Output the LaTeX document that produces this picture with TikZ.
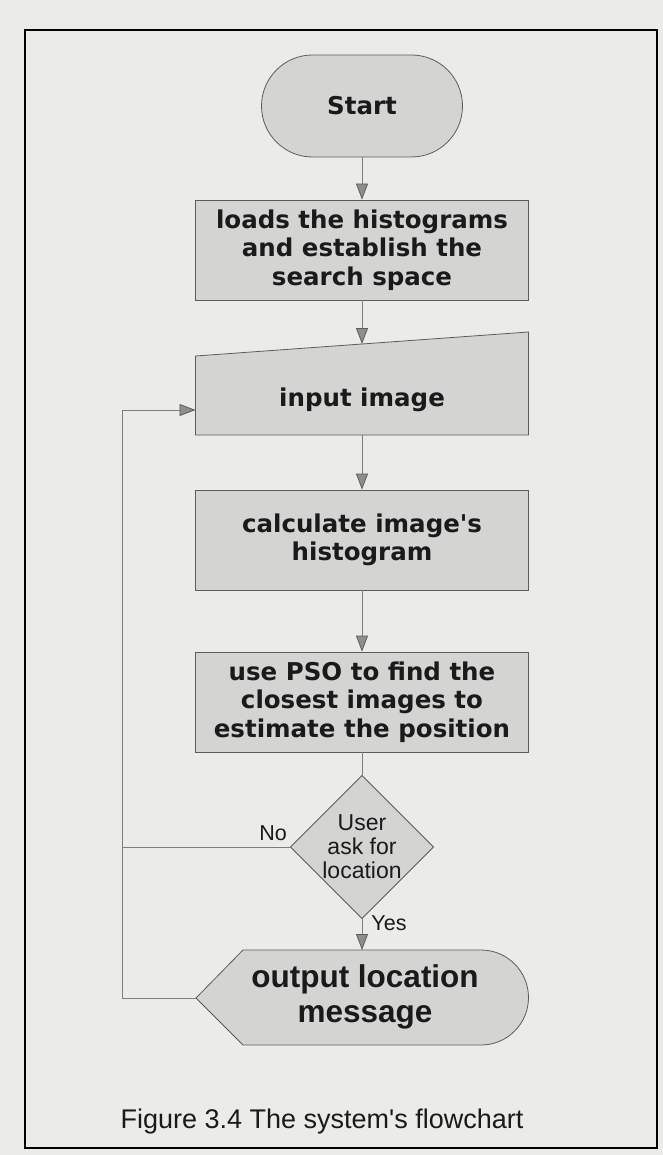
\documentclass[tikz,border=0pt]{standalone}
\usepackage{fontspec}
\setmainfont{DejaVu Sans}
\newfontfamily\arialfont{Liberation Sans}
\usetikzlibrary{shapes.geometric,arrows.meta}

\definecolor{paper}{HTML}{EBEBE8}
\definecolor{boxfill}{HTML}{D4D4D3}
\definecolor{edgecol}{HTML}{5C5C5C}
\definecolor{linecol}{HTML}{7E7E7E}
\definecolor{headfill}{HTML}{8E8E8E}
\definecolor{ink}{HTML}{1A1A1A}

\newcommand{\boxfnt}{\fontsize{24.5}{28.5}\bfseries\selectfont}
\newcommand{\decfnt}{\arialfont\fontsize{23}{24}\selectfont}
\newcommand{\lblfnt}{\arialfont\fontsize{21.5}{24}\selectfont}
\newcommand{\outfnt}{\arialfont\bfseries\fontsize{31.5}{35}\selectfont}
\newcommand{\capfnt}{\arialfont\fontsize{27}{30}\selectfont}

\begin{document}
\begin{tikzpicture}[x=1pt,y=-1pt,
  procbox/.style={draw=edgecol, fill=boxfill, line width=0.8pt,
    minimum width=333pt, minimum height=100pt, inner sep=0pt,
    align=center, font=\boxfnt, text=ink},
  termbox/.style={procbox, minimum width=201pt, minimum height=102pt,
    rounded corners=51pt},
  decbox/.style={draw=edgecol, fill=boxfill, line width=0.8pt, diamond,
    minimum width=138pt, minimum height=135pt, inner sep=0pt,
    align=center, font=\decfnt, text=ink},
  shapeline/.style={draw=edgecol, fill=boxfill, line width=0.8pt},
  plain/.style={draw=linecol, line width=0.8pt},
  conn/.style={plain, -{Triangle[length=16pt,width=12pt,color=edgecol,fill=headfill]}},
  lbl/.style={font=\lblfnt, text=ink, inner sep=0pt},
]
% page and outer frame
\fill[paper] (0,0) rectangle (663,1155);
\useasboundingbox (0,0) rectangle (663,1155);
\draw[black, line width=2pt] (25,30) rectangle (657,1148);

% terminal and process steps
\node[termbox] (start) at (362,106) {Start};
\node[procbox] (load) at (362,250) {loads the histograms\\and establish the\\search space};

% manual input step
\coordinate (inpTL) at (195.5,356);
\coordinate (inpTR) at (528.5,332);
\coordinate (inpBR) at (528.5,435);
\coordinate (inpBL) at (195.5,435);
\draw[shapeline] (inpTL) -- (inpTR) -- (inpBR) -- (inpBL) -- cycle;
\node[font=\boxfnt, text=ink] (inp) at (362,400) {input image};
\coordinate (inpTop) at (362,344);
\coordinate (inpBot) at (362,435);
\coordinate (inpLeft) at (195.5,410);

\node[procbox] (calc) at (362,540) {calculate image\textquotesingle s\\histogram};
\node[procbox] (pso) at (362,702) {use PSO to find the\\closest images to\\estimate the position};

% decision
\node[decbox] (ask) at (362,847) {User\\ask for\\location};

% display step
\coordinate (outTip) at (196,998);
\coordinate (outTop) at (362,950);
\draw[shapeline] (outTip) -- (243,950) -- (481,950)
  arc[start angle=-90, end angle=90, x radius=47.5pt, y radius=-47.5pt]
  -- (243,1045) -- cycle;
\node[font=\outfnt, text=ink, align=center] (out) at (365,997) {output location\\message};

% connectors
\draw[conn] (start) -- (load);
\draw[conn] (load) -- (inpTop);
\draw[conn] (inpBot) -- (calc);
\draw[conn] (calc) -- (pso);
\draw[plain] (pso) -- (ask);
\draw[conn] (ask.south) -- (outTop);

% loop back to the input step
\coordinate (bendNo) at (122,847);
\coordinate (bendOut) at (122,998);
\coordinate (bendIn) at (122,410);
\draw[plain] (ask.west) -- (bendNo);
\draw[conn] (outTip) -- (bendOut) -- (bendIn) -- (inpLeft);

% branch labels
\node[lbl] (no) at (273,833) {No};
\node[lbl] (yes) at (389,923) {Yes};

% caption
\node[font=\capfnt, text=ink] (cap) at (322,1122) {Figure 3.4 The system\textquotesingle s flowchart};
\end{tikzpicture}
\end{document}
